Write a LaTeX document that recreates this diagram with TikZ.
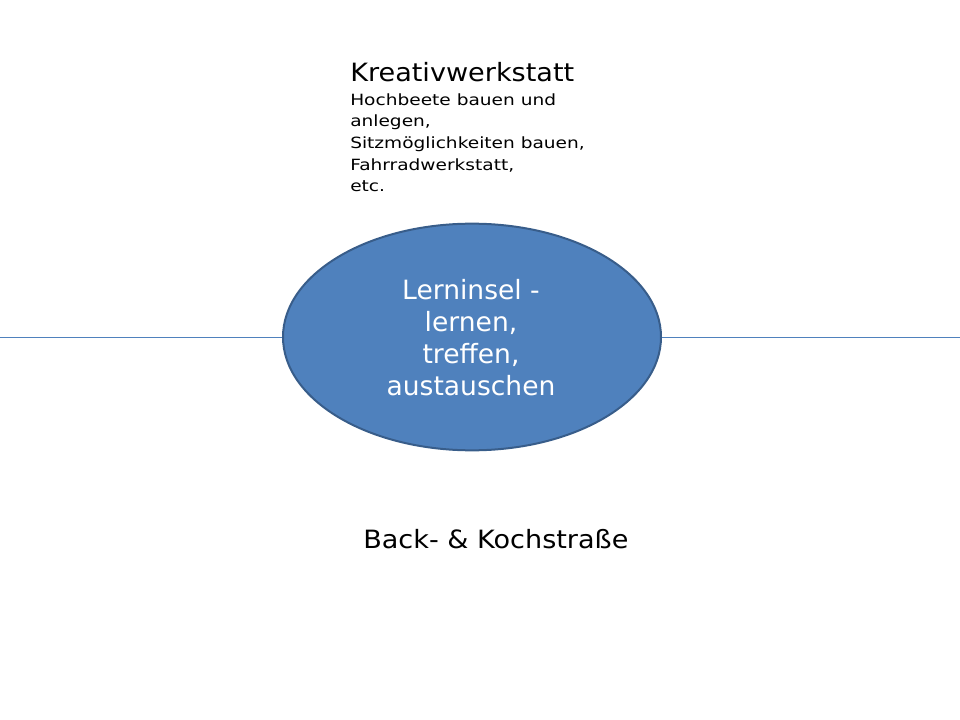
\documentclass[tikz,border=0pt]{standalone}
\usepackage{fontspec}
\setmainfont{DejaVu Sans}
\newfontfamily\mittelbreit[FakeStretch=1.075]{DejaVu Sans}
\newfontfamily\breit[FakeStretch=1.2]{DejaVu Sans}
\usetikzlibrary{positioning}
\usetikzlibrary{shapes.geometric}
\definecolor{inselblau}{HTML}{4F81BD}
\definecolor{inselrand}{HTML}{385D8A}
\tikzset{
    insel/.style={shape=ellipse,draw=inselrand,line width=1.5pt,fill=inselblau,
        minimum width=283.5pt,minimum height=170pt,inner sep=0pt},
    titel/.style={inner sep=0pt,font=\mittelbreit\fontsize{18.9}{22}\selectfont},
    liste/.style={inner sep=0pt,align=left,font=\breit\fontsize{11.6}{16.25}\selectfont}
}
\begin{document}
\begin{tikzpicture}[x=0.75pt,y=-0.75pt]
		\useasboundingbox (0,0) rectangle (960,720);
		\coordinate (links) at (0,337);
		\coordinate (rechts) at (960,337);
		\node[insel] (L) at (472,337) {};
		\node[inner sep=0pt,align=center,text=white,font=\fontsize{19.9}{24}\selectfont,anchor=base] (Ltext) at (471,395) {Lerninsel -\\lernen,\\treffen,\\austauschen};
		\node[titel,anchor=base west] (K) at (350,81.5) {Kreativwerkstatt};
		\node[liste,anchor=base west] (Kliste) at (350,191.7) {Hochbeete bauen und\\anlegen,\\Sitzmöglichkeiten bauen,\\Fahrradwerkstatt,\\etc.};
		\node[titel,anchor=base west] (B) at (363,548.5) {Back- \& Kochstraße};
		
		\path [-,draw=inselblau,line width=0.75pt] (links) edge (L.west);
		\path [-,draw=inselblau,line width=0.75pt] (L.east) edge (rechts);
		\end{tikzpicture}
\end{document}
